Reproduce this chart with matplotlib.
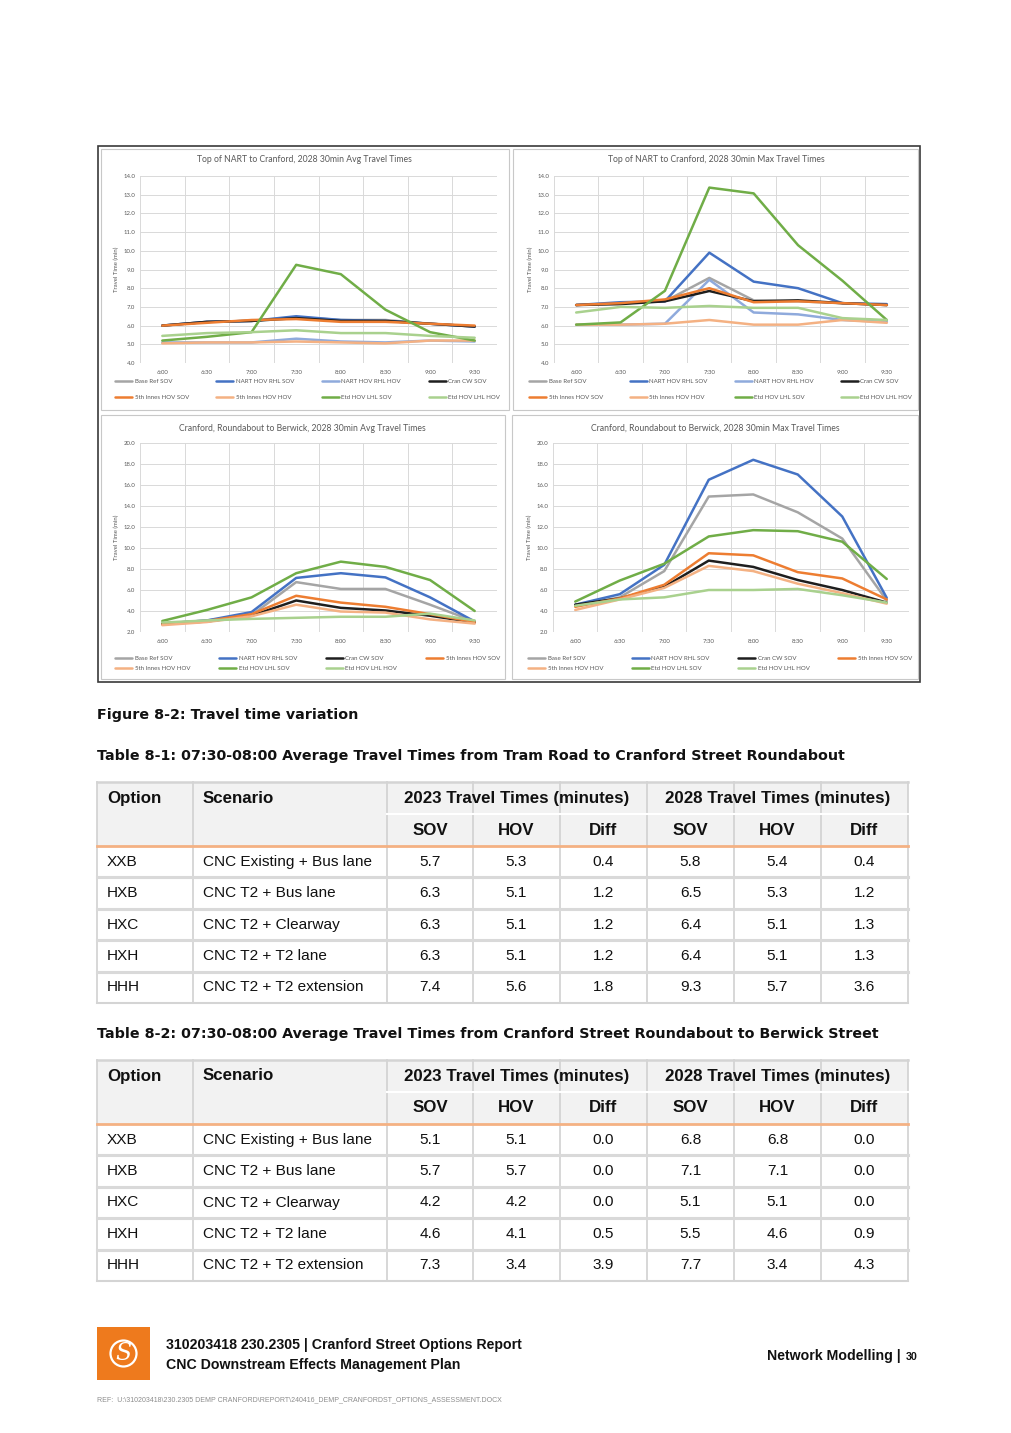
import numpy as np
import matplotlib
matplotlib.use('Agg')
import matplotlib.pyplot as plt
from matplotlib.patches import Rectangle, Circle
from matplotlib import font_manager

W, H = 1012, 1433

# ---- chart data ----
times = ['6:00', '6:30', '7:00', '7:30', '8:00', '8:30', '9:00', '9:30']

names_all = ['Base Ref SOV', 'NART HOV RHL SOV', 'NART HOV RHL HOV', 'Cran CW SOV',
             '5th Innes HOV SOV', '5th Innes HOV HOV', 'Etd HOV LHL SOV', 'Etd HOV LHL HOV']
colors_all = ['#A5A5A5', '#4472C4', '#8FAADC', '#1E1E1E',
              '#ED7D31', '#F4B183', '#70AD47', '#A9D18E']

# Top of NART to Cranford, avg
nart_avg = [
    [6.0, 6.2, 6.25, 6.45, 6.3, 6.3, 6.1, 5.95],
    [6.0, 6.2, 6.25, 6.5, 6.3, 6.25, 6.1, 5.95],
    [5.1, 5.1, 5.1, 5.3, 5.15, 5.1, 5.2, 5.15],
    [6.0, 6.2, 6.25, 6.4, 6.25, 6.25, 6.1, 5.95],
    [6.0, 6.15, 6.3, 6.35, 6.2, 6.2, 6.1, 6.0],
    [5.05, 5.1, 5.1, 5.15, 5.1, 5.05, 5.2, 5.2],
    [5.2, 5.4, 5.65, 9.25, 8.75, 6.85, 5.65, 5.2],
    [5.45, 5.6, 5.65, 5.75, 5.6, 5.6, 5.45, 5.35],
]
# Top of NART to Cranford, max
nart_max = [
    [7.1, 7.2, 7.3, 8.55, 7.35, 7.3, 7.2, 7.1],
    [7.1, 7.25, 7.3, 9.9, 8.35, 8.0, 7.2, 7.15],
    [6.05, 6.05, 6.1, 8.45, 6.7, 6.6, 6.3, 6.2],
    [7.1, 7.15, 7.3, 7.85, 7.3, 7.35, 7.2, 7.1],
    [7.1, 7.2, 7.4, 8.0, 7.25, 7.3, 7.2, 7.1],
    [6.05, 6.05, 6.1, 6.3, 6.05, 6.05, 6.3, 6.15],
    [6.05, 6.17, 7.86, 13.38, 13.07, 10.3, 8.4, 6.3],
    [6.7, 7.0, 6.95, 7.05, 6.95, 6.95, 6.4, 6.3],
]
# Cranford roundabout to Berwick (no NART HOV RHL HOV series)
berw_idx = [0, 1, 3, 4, 5, 6, 7]
berw_avg = [
    [2.8, 3.1, 3.6, 6.75, 6.1, 6.1, 4.6, 3.0],
    [2.8, 3.1, 3.9, 7.15, 7.6, 7.2, 5.3, 3.0],
    [2.75, 3.0, 3.55, 5.0, 4.3, 4.05, 3.55, 2.9],
    [2.75, 3.05, 3.7, 5.45, 4.8, 4.4, 3.7, 2.95],
    [2.65, 2.95, 3.5, 4.6, 3.95, 3.85, 3.2, 2.8],
    [3.05, 4.1, 5.3, 7.6, 8.7, 8.2, 6.95, 4.0],
    [2.9, 3.1, 3.25, 3.35, 3.45, 3.45, 3.75, 3.1],
]
berw_max = [
    [4.5, 5.3, 7.8, 14.9, 15.1, 13.4, 10.9, 5.0],
    [4.6, 5.6, 8.4, 16.5, 18.4, 17.0, 13.0, 5.25],
    [4.6, 5.2, 6.3, 8.8, 8.2, 6.95, 6.0, 4.8],
    [4.4, 5.2, 6.5, 9.5, 9.3, 7.7, 7.1, 5.1],
    [4.1, 5.1, 6.2, 8.3, 7.8, 6.6, 5.7, 4.7],
    [4.9, 6.9, 8.5, 11.1, 11.7, 11.6, 10.6, 7.05],
    [4.5, 5.1, 5.3, 6.0, 6.0, 6.1, 5.5, 4.8],
]

# ---- table data ----
options = ['XXB', 'HXB', 'HXC', 'HXH', 'HHH']
scenarios = ['CNC Existing + Bus lane', 'CNC T2 + Bus lane', 'CNC T2 + Clearway',
             'CNC T2 + T2 lane', 'CNC T2 + T2 extension']
t1_2023 = [[5.7, 5.3, 0.4], [6.3, 5.1, 1.2], [6.3, 5.1, 1.2], [6.3, 5.1, 1.2], [7.4, 5.6, 1.8]]
t1_2028 = [[5.8, 5.4, 0.4], [6.5, 5.3, 1.2], [6.4, 5.1, 1.3], [6.4, 5.1, 1.3], [9.3, 5.7, 3.6]]
t2_2023 = [[5.1, 5.1, 0.0], [5.7, 5.7, 0.0], [4.2, 4.2, 0.0], [4.6, 4.1, 0.5], [7.3, 3.4, 3.9]]
t2_2028 = [[6.8, 6.8, 0.0], [7.1, 7.1, 0.0], [5.1, 5.1, 0.0], [5.5, 4.6, 0.9], [7.7, 3.4, 4.3]]

installed = {f.name for f in font_manager.fontManager.ttflist}
narrow = 'Liberation Sans Narrow' if 'Liberation Sans Narrow' in installed else 'Liberation Sans'
foot_size = 12 if narrow == 'Liberation Sans Narrow' else 10.2
chart_font = 'Lato'
cap_font = 'DejaVu Sans'


def box(x0, y0, x1, y1):
    return [x0 / W, 1 - y1 / H, (x1 - x0) / W, (y1 - y0) / H]


fig = plt.figure(figsize=(W / 100, H / 100), dpi=100)
page = fig.add_axes([0, 0, 1, 1], zorder=0)
page.set_xlim(0, W)
page.set_ylim(H, 0)
page.axis('off')

# chart frames
page.add_patch(Rectangle((98, 146), 822, 536, fill=False, ec='#3A3A3A', lw=1.2))
for (x0, y0, x1, y1) in [(101, 149, 509, 410), (513, 149, 918, 410),
                         (101, 415, 505, 679), (512, 415, 918, 679)]:
    page.add_patch(Rectangle((x0, y0), x1 - x0, y1 - y0, fill=False, ec='#C8C8C8', lw=0.8))


def chart(pos, title, title_xy, series, idx, ymin, ymax, ystep, leg_y, leg_sp):
    ax = fig.add_axes(box(*pos), zorder=2)
    ax.set_facecolor('none')
    x = np.arange(len(times))
    handles = []
    for vals, i in zip(series, idx):
        h, = ax.plot(x, vals, color=colors_all[i], lw=1.8, label=names_all[i],
                     solid_capstyle='round', solid_joinstyle='round')
        handles.append(h)
    ax.set_xlim(-0.5, len(times) - 0.5)
    ax.set_ylim(ymin, ymax)
    ax.set_yticks(np.arange(ymin, ymax + 0.01, ystep))
    ax.set_yticklabels([f'{v:.1f}' for v in np.arange(ymin, ymax + 0.01, ystep)])
    ax.set_xticks(x)
    ax.set_xticklabels(times)
    ax.set_xticks(np.arange(-0.5, len(times), 1), minor=True)
    ax.grid(True, axis='y', which='major', color='#D9D9D9', lw=0.7)
    ax.grid(True, axis='x', which='minor', color='#D9D9D9', lw=0.7)
    ax.tick_params(which='both', length=0, labelsize=4.3, labelcolor='#595959')
    ax.tick_params(axis='x', pad=5)
    ax.tick_params(axis='y', pad=3.5)
    for lab in ax.get_xticklabels() + ax.get_yticklabels():
        lab.set_family(chart_font)
    for s in ax.spines.values():
        s.set_visible(False)
    ax.set_ylabel('Travel Time (min)', fontsize=4.3, color='#595959', family=chart_font, labelpad=3)
    page.text(title_xy[0], title_xy[1], title, ha='center', va='center',
              fontsize=6.2, color='#595959', family=chart_font)
    n = len(handles)
    order = [0, 4, 1, 5, 2, 6, 3, 7] if n == 8 else [0, 4, 1, 5, 2, 6, 3]
    axh = pos[3] - pos[1]
    axw = pos[2] - pos[0]
    ax.legend([handles[k] for k in order], [handles[k].get_label() for k in order],
              ncol=4, mode='expand', loc='upper left',
              bbox_to_anchor=(-25 / axw, (pos[3] - leg_y) / axh, (axw + 28) / axw, 0),
              frameon=False, borderpad=0, borderaxespad=0, handlelength=2.8,
              handletextpad=0.4, labelspacing=leg_sp,
              prop={'family': chart_font, 'size': 4.4}, labelcolor='#595959')
    return ax


chart((140, 176, 497, 363), 'Top of NART to Cranford, 2028 30min Avg Travel Times', (304, 159),
      nart_avg, range(8), 4.0, 14.0, 1.0, 379, 1.75)
chart((554, 176, 909, 363), 'Top of NART to Cranford, 2028 30min Max Travel Times', (716, 159),
      nart_max, range(8), 4.0, 14.0, 1.0, 379, 1.75)
chart((140, 443, 497, 632), 'Cranford, Roundabout to Berwick, 2028 30min Avg Travel Times', (302, 428),
      berw_avg, berw_idx, 2.0, 20.0, 2.0, 656, 0.75)
chart((553, 443, 909, 632), 'Cranford, Roundabout to Berwick, 2028 30min Max Travel Times', (715, 428),
      berw_max, berw_idx, 2.0, 20.0, 2.0, 656, 0.75)

# captions
cap = dict(ha='left', va='center', fontsize=10.3, weight='bold', family=cap_font, color='#111111')
page.text(97, 715, 'Figure 8-2: Travel time variation', **cap)
page.text(97, 756, 'Table 8-1: 07:30-08:00 Average Travel Times from Tram Road to Cranford Street Roundabout', **cap)
page.text(97, 1034, 'Table 8-2: 07:30-08:00 Average Travel Times from Cranford Street Roundabout to Berwick Street', **cap)

col_x = [97, 193, 387, 473, 560, 647, 734, 821, 908]


def table(top, v2023, v2028):
    hh = 32
    rh = 31.4
    hb = top + 2 * hh
    bottom = hb + rh * len(options)
    tf = dict(family='Liberation Sans', color='#111111')
    page.add_patch(Rectangle((col_x[0], top), col_x[-1] - col_x[0], 2 * hh, fc='#F2F2F2', ec='none'))
    # vertical separators
    for cx in col_x:
        page.plot([cx, cx], [top, bottom], color='#D4D4D4', lw=1.3)
    page.plot([col_x[2], col_x[-1]], [top + hh, top + hh], color='#FFFFFF', lw=1.5)
    page.plot([col_x[0], col_x[-1]], [top, top], color='#D4D4D4', lw=1.8)
    for r in range(1, len(options)):
        yy = hb + r * rh
        page.plot([col_x[0], col_x[-1]], [yy, yy], color='#D9D9D9', lw=2.2)
    page.plot([col_x[0], col_x[-1]], [bottom, bottom], color='#D4D4D4', lw=1.5)
    page.plot([col_x[0], col_x[-1]], [hb, hb], color='#F4B183', lw=2.0)
    # header text
    hs = 12.2
    page.text(107, top + hh / 2, 'Option', ha='left', va='center', fontsize=hs, weight='bold', **tf)
    page.text(203, top + hh / 2, 'Scenario', ha='left', va='center', fontsize=hs, weight='bold', **tf)
    page.text((col_x[2] + col_x[5]) / 2, top + hh / 2, '2023 Travel Times (minutes)',
              ha='center', va='center', fontsize=hs, weight='bold', **tf)
    page.text((col_x[5] + col_x[8]) / 2, top + hh / 2, '2028 Travel Times (minutes)',
              ha='center', va='center', fontsize=hs, weight='bold', **tf)
    for k, sub in enumerate(['SOV', 'HOV', 'Diff'] * 2):
        page.text((col_x[2 + k] + col_x[3 + k]) / 2, top + 1.5 * hh, sub,
                  ha='center', va='center', fontsize=hs, weight='bold', **tf)
    for r in range(len(options)):
        yc = hb + (r + 0.5) * rh
        page.text(107, yc, options[r], ha='left', va='center', fontsize=11.1, **tf)
        page.text(203, yc, scenarios[r], ha='left', va='center', fontsize=11.1, **tf)
        for k, v in enumerate(v2023[r] + v2028[r]):
            page.text((col_x[2 + k] + col_x[3 + k]) / 2, yc, f'{v:.1f}',
                      ha='center', va='center', fontsize=11.1, **tf)


table(782, t1_2023, t1_2028)
table(1060, t2_2023, t2_2028)

# footer
page.add_patch(Rectangle((97, 1327), 53, 53, fc='#EE7A1D', ec='none'))
page.add_patch(Circle((123.5, 1353.5), 13, fill=False, ec='white', lw=1.6))
page.text(123.5, 1354, 'S', ha='center', va='center', fontsize=17, color='white',
          family='DejaVu Serif', style='italic')
ff = dict(ha='left', va='center', fontsize=foot_size, weight='bold', family=narrow, color='#111111')
page.text(166, 1345, '310203418 230.2305 | Cranford Street Options Report', **ff)
page.text(166, 1365, 'CNC Downstream Effects Management Plan', **ff)
page.text(905, 1356, 'Network Modelling | ', ha='right', va='center', fontsize=foot_size,
          weight='bold', family=narrow, color='#111111')
page.text(906, 1357, '30', ha='left', va='center', fontsize=foot_size * 0.75, weight='bold',
          family=narrow, color='#111111')
page.text(97, 1400, 'REF:  U:\\310203418\\230.2305 DEMP CRANFORD\\REPORT\\240416_DEMP_CRANFORDST_OPTIONS_ASSESSMENT.DOCX',
          ha='left', va='center', fontsize=5.5 if narrow == 'Liberation Sans Narrow' else 5.0,
          family=narrow, color='#8C8C8C')

fig.savefig('out.png', dpi=100)
